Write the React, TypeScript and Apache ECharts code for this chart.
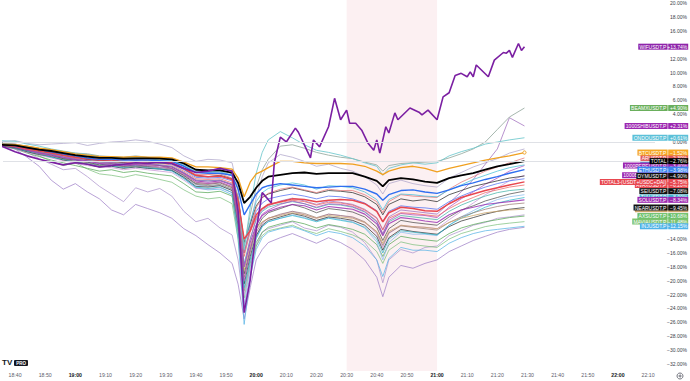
import React, { useEffect, useRef } from 'react';
import * as echarts from 'echarts';

// shared sample times (HH:MM)
const times = ["18:35","18:40","18:44","18:48","18:52","18:56","19:00","19:04","19:08","19:12","19:16","19:20","19:24","19:28","19:32","19:36","19:40","19:44","19:48","19:52","19:54","19:56","19:58","20:00","20:02","20:04","20:08","20:12","20:16","20:20","20:24","20:28","20:32","20:36","20:40","20:42","20:44","20:48","20:52","20:56","21:00","21:04","21:08","21:12","21:16","21:20","21:24","21:29"];

const totalVals = [-0.4,-0.5,-0.8,-1.1,-1.3,-1.6,-1.9,-2.1,-2.3,-2.3,-2.4,-2.35,-2.35,-2.4,-2.5,-3.1,-4.0,-4.1,-4.1,-4.4,-5.9,-8.8,-7.9,-6.6,-5.6,-5.0,-4.75,-4.5,-4.4,-4.6,-4.5,-4.5,-4.5,-5.0,-5.6,-6.4,-5.5,-5.2,-5.4,-5.7,-5.9,-5.2,-4.8,-4.5,-4.0,-3.5,-3.2,-2.76];
const btcVals = [-0.3,-0.4,-0.6,-0.9,-1.1,-1.4,-1.7,-1.9,-2.1,-2.1,-2.2,-2.1,-2.2,-2.2,-2.3,-2.9,-3.6,-3.6,-3.7,-3.9,-5.2,-7.9,-5.8,-4.6,-4.2,-3.7,-2.8,-2.8,-3.0,-3.1,-3.1,-3.1,-3.2,-3.5,-4.2,-4.7,-4.2,-3.7,-3.5,-3.8,-4.3,-3.8,-3.4,-3.0,-2.6,-2.3,-2.0,-1.52];
const ethVals = [-0.3,-0.5,-0.8,-1.1,-1.4,-1.7,-2.0,-2.3,-2.5,-2.5,-2.6,-2.6,-2.6,-2.7,-2.8,-3.5,-4.4,-4.5,-4.5,-4.8,-6.8,-10.5,-9.0,-7.5,-6.6,-6.3,-6.0,-6.2,-6.4,-6.6,-6.5,-6.4,-6.4,-6.8,-7.5,-8.4,-7.6,-7.0,-6.9,-7.2,-7.4,-6.9,-6.3,-5.9,-5.4,-5.0,-4.5,-3.98];
const total3Vals = [-0.4,-0.6,-1.0,-1.3,-1.6,-1.9,-2.2,-2.4,-2.6,-2.6,-2.8,-2.8,-2.8,-2.9,-3.0,-3.8,-4.8,-5.0,-4.9,-5.4,-8.5,-14.0,-12.8,-10.5,-9.6,-9.0,-8.6,-8.2,-8.3,-8.6,-8.4,-8.3,-8.4,-8.9,-10.0,-11.5,-10.2,-9.4,-9.6,-9.9,-10.0,-8.9,-8.0,-7.5,-7.0,-6.6,-6.2,-5.75];
const beamxVals = [-0.1,-0.3,-0.6,-0.9,-1.1,-1.4,-1.6,-1.7,-2.0,-2.1,-2.2,-2.0,-2.2,-2.4,-2.5,-3.2,-4.0,-4.1,-4.0,-4.6,-8.0,-15.0,-10.5,-6.5,-4.0,-2.5,-0.6,-0.4,-0.9,-1.5,-1.9,-2.2,-2.4,-2.9,-3.3,-4.2,-3.4,-3.1,-3.0,-2.9,-2.8,-2.3,-1.7,-1.0,0.0,1.8,3.6,4.9];
const ondoVals = [0.2,0.1,-0.3,-0.6,-1.0,-1.3,-1.6,-1.8,-2.1,-2.2,-2.3,-2.2,-2.3,-2.4,-2.6,-3.3,-4.2,-4.3,-4.2,-4.8,-8.5,-15.5,-9.5,-4.5,-1.5,0.3,1.5,0.6,-0.4,-1.2,-1.5,-1.9,-2.4,-3.0,-3.5,-4.8,-3.8,-3.3,-3.0,-3.2,-3.0,-2.0,-1.4,-0.9,-0.3,0.0,0.3,0.61];
const shibVals = [-0.3,-0.7,-1.1,-1.5,-1.8,-2.1,-2.4,-2.6,-2.9,-3.0,-3.2,-3.0,-3.2,-3.3,-3.5,-4.4,-5.5,-5.6,-5.5,-6.1,-10.5,-18.0,-14.0,-11.0,-9.8,-9.2,-8.5,-8.1,-8.5,-9.0,-8.5,-8.7,-9.0,-9.7,-10.9,-12.6,-10.8,-9.8,-10.0,-10.2,-10.4,-8.8,-7.2,-5.4,-3.2,-1.0,3.5,2.31];
const dymVals = [-0.2,-0.5,-0.8,-1.3,-1.5,-1.9,-2.1,-2.5,-2.6,-2.8,-2.9,-2.7,-2.9,-3.0,-3.1,-3.9,-4.9,-5.0,-4.8,-5.3,-8.0,-14.5,-11.8,-9.2,-8.0,-7.5,-7.0,-6.6,-7.0,-7.4,-7.0,-7.1,-7.3,-7.9,-9.0,-10.5,-9.0,-8.2,-8.5,-8.3,-8.6,-7.6,-7.0,-6.4,-6.0,-5.6,-5.2,-4.9];
const seiVals = [-0.4,-0.8,-1.2,-1.5,-1.9,-2.4,-2.6,-2.9,-3.3,-3.1,-3.5,-3.3,-3.5,-3.4,-3.8,-4.8,-6.0,-6.1,-5.9,-6.6,-11.0,-19.0,-15.5,-12.5,-11.0,-10.2,-9.6,-9.0,-9.5,-10.2,-9.6,-9.8,-10.1,-10.8,-12.3,-14.2,-12.5,-11.3,-11.6,-11.8,-12.0,-10.8,-9.8,-9.2,-8.5,-8.0,-7.5,-7.08];
const solVals = [-0.3,-0.7,-1.1,-1.6,-1.8,-2.2,-2.5,-2.7,-3.1,-3.0,-3.3,-3.2,-3.2,-3.4,-3.6,-4.5,-5.6,-5.8,-5.6,-6.2,-10.5,-18.0,-14.5,-12.0,-10.6,-10.0,-9.4,-9.0,-9.2,-9.8,-9.3,-9.5,-9.7,-10.4,-11.8,-13.5,-11.8,-10.9,-11.1,-11.4,-11.6,-10.5,-9.8,-9.4,-9.0,-8.8,-8.6,-8.34];
const nearVals = [-0.5,-0.9,-1.4,-1.8,-2.1,-2.6,-2.9,-3.2,-3.6,-3.5,-3.8,-3.6,-3.8,-3.9,-4.1,-5.1,-6.4,-6.5,-6.3,-7.0,-12.0,-20.5,-16.5,-13.5,-12.0,-11.3,-10.8,-10.3,-10.7,-11.3,-10.8,-11.0,-11.3,-12.0,-13.6,-15.6,-13.8,-12.6,-12.9,-13.1,-13.3,-12.2,-11.4,-10.9,-10.4,-10.0,-9.7,-9.45];
const axsVals = [-0.6,-1.0,-1.6,-2.1,-2.6,-3.0,-3.4,-3.8,-4.2,-4.0,-4.4,-4.2,-4.5,-4.7,-4.9,-6.0,-7.2,-7.3,-7.1,-7.8,-13.0,-21.5,-17.5,-14.5,-13.0,-12.3,-11.8,-11.4,-11.8,-12.4,-11.9,-12.2,-12.6,-13.3,-14.8,-16.5,-14.8,-13.6,-13.9,-14.1,-14.3,-13.2,-12.4,-11.9,-11.5,-11.2,-10.9,-10.68];
const maviaVals = [-0.1,-0.5,-1.3,-2.0,-2.8,-3.4,-3.0,-3.9,-4.6,-4.8,-5.1,-4.7,-5.0,-5.4,-5.8,-6.9,-7.8,-8.2,-8.0,-8.9,-14.0,-22.5,-18.0,-15.0,-13.5,-12.8,-12.4,-12.0,-12.7,-13.2,-12.5,-12.9,-13.4,-14.2,-15.8,-17.5,-15.6,-14.4,-14.8,-15.0,-15.2,-14.0,-13.2,-12.7,-12.2,-11.9,-11.7,-11.48];
const injVals = [-0.3,-0.6,-1.0,-1.5,-1.8,-2.3,-2.6,-2.9,-3.2,-3.2,-3.5,-3.4,-3.6,-3.8,-4.0,-5.2,-6.6,-6.9,-6.8,-7.6,-14.0,-26.3,-19.5,-15.5,-13.8,-13.0,-12.5,-12.2,-12.8,-13.5,-12.9,-13.2,-13.8,-15.0,-17.0,-19.4,-16.8,-15.2,-15.6,-15.6,-15.8,-14.6,-13.8,-13.2,-12.8,-12.6,-12.4,-12.15];
const arVals = [-0.2,-0.3,-0.7,-1.0,-1.4,-1.6,-2.0,-2.1,-2.4,-2.5,-2.6,-2.5,-2.7,-2.8,-2.9,-3.8,-4.7,-4.7,-4.6,-5.2,-9.5,-16.0,-12.5,-9.5,-8.0,-7.4,-6.8,-6.5,-6.9,-7.3,-6.8,-7.0,-7.0,-7.6,-8.6,-10.2,-8.6,-7.6,-7.8,-7.9,-8.0,-6.8,-5.8,-5.0,-4.2,-3.6,-3.0,-2.3];
const opVals = [-0.1,-0.4,-0.6,-1.0,-1.3,-1.5,-1.9,-2.0,-2.2,-2.3,-2.5,-2.4,-2.4,-2.6,-2.7,-3.4,-4.3,-4.4,-4.3,-4.9,-8.5,-15.0,-11.5,-8.6,-7.3,-6.7,-6.2,-5.9,-6.2,-6.8,-6.3,-6.4,-6.6,-7.2,-8.3,-9.8,-8.3,-7.5,-7.6,-7.8,-7.9,-6.9,-6.2,-5.4,-4.8,-4.2,-3.7,-3.3];
const pepeVals = [-0.4,-0.7,-1.2,-1.6,-2.0,-2.2,-2.6,-2.8,-3.1,-3.3,-3.4,-3.3,-3.4,-3.6,-3.8,-4.7,-5.8,-6.0,-5.8,-6.4,-11.5,-20.0,-15.5,-12.0,-10.4,-9.8,-9.0,-8.5,-8.9,-9.4,-8.9,-9.0,-9.3,-10.0,-11.4,-13.2,-11.3,-10.3,-10.5,-10.6,-10.9,-9.4,-8.2,-7.2,-6.1,-5.2,-4.2,-3.4];
const bonkVals = [-0.5,-1.0,-1.5,-1.9,-2.3,-2.7,-3.1,-3.4,-3.6,-3.7,-4.0,-3.8,-4.0,-4.2,-4.4,-5.5,-6.7,-6.8,-6.6,-7.3,-12.5,-22.0,-17.0,-13.5,-11.8,-11.0,-10.5,-10.0,-10.5,-11.0,-10.4,-10.6,-10.9,-11.6,-13.2,-15.2,-13.2,-12.0,-12.2,-12.3,-12.5,-11.2,-10.0,-8.8,-7.6,-6.6,-5.6,-4.8];
const avaxVals = [-0.3,-0.6,-0.9,-1.2,-1.6,-1.9,-2.3,-2.5,-2.7,-2.8,-3.0,-2.9,-3.0,-3.1,-3.3,-4.2,-5.3,-5.4,-5.3,-5.9,-10.0,-16.5,-13.0,-10.8,-9.6,-9.1,-8.7,-8.4,-8.6,-9.1,-8.7,-8.8,-9.1,-9.8,-11.0,-12.7,-11.0,-10.2,-10.3,-10.5,-10.7,-9.6,-8.7,-8.0,-7.3,-6.9,-6.5,-6.2];
const tiaVals = [-0.4,-0.9,-1.3,-1.7,-2.2,-2.5,-2.8,-3.2,-3.5,-3.4,-3.7,-3.5,-3.7,-3.9,-4.2,-5.3,-6.5,-6.7,-6.5,-7.3,-12.5,-21.0,-17.0,-13.8,-12.2,-11.5,-11.0,-10.6,-11.0,-11.5,-11.0,-11.3,-11.6,-12.3,-14.0,-16.0,-14.0,-12.8,-13.0,-13.2,-13.4,-12.0,-11.0,-10.2,-9.4,-8.8,-8.4,-8.0];
const ordiVals = [-0.2,-0.5,-0.9,-1.3,-1.7,-2.1,-2.4,-2.7,-3.0,-3.0,-3.3,-3.1,-3.3,-3.4,-3.6,-4.6,-5.8,-6.0,-5.8,-6.5,-11.0,-18.5,-15.0,-12.5,-11.5,-11.0,-10.6,-10.2,-10.5,-11.0,-10.6,-10.8,-11.0,-11.6,-12.9,-14.6,-12.9,-12.0,-12.2,-12.3,-12.5,-11.6,-11.0,-10.6,-10.2,-10.0,-9.8,-9.7];
const linkVals = [-0.3,-0.5,-0.9,-1.2,-1.6,-1.8,-2.2,-2.4,-2.7,-2.7,-2.9,-2.8,-2.9,-3.0,-3.2,-4.0,-5.1,-5.2,-5.1,-5.6,-9.5,-16.0,-12.5,-10.0,-8.8,-8.2,-7.8,-7.5,-7.8,-8.2,-7.8,-7.9,-8.2,-8.8,-9.9,-11.5,-10.0,-9.2,-9.4,-9.5,-9.7,-8.6,-7.8,-7.1,-6.5,-6.0,-5.6,-5.3];
const dogeVals = [-0.4,-0.8,-1.2,-1.7,-2.0,-2.4,-2.8,-3.0,-3.4,-3.3,-3.6,-3.5,-3.6,-3.7,-3.9,-4.9,-6.1,-6.3,-6.1,-6.8,-11.5,-19.5,-16.0,-13.0,-11.6,-11.0,-10.4,-10.0,-10.3,-10.9,-10.4,-10.6,-10.8,-11.5,-13.0,-14.9,-13.1,-12.1,-12.3,-12.5,-12.7,-11.6,-10.8,-10.2,-9.7,-9.3,-9.0,-8.8];
const aptVals = [-0.2,-0.6,-1.0,-1.4,-1.7,-2.0,-2.4,-2.6,-2.9,-2.9,-3.1,-3.0,-3.1,-3.3,-3.5,-4.4,-5.5,-5.6,-5.5,-6.1,-10.5,-17.5,-14.0,-11.2,-10.0,-9.4,-8.9,-8.6,-8.9,-9.5,-9.0,-9.1,-9.4,-10.1,-11.5,-13.3,-11.5,-10.6,-10.8,-11.0,-11.2,-10.0,-9.1,-8.4,-7.8,-7.3,-7.0,-6.8];
const arbVals = [-0.5,-0.9,-1.3,-1.8,-2.2,-2.5,-2.9,-3.1,-3.4,-3.5,-3.7,-3.6,-3.8,-3.9,-4.1,-5.0,-6.2,-6.4,-6.2,-6.9,-12.0,-23.5,-18.0,-14.0,-12.2,-11.5,-11.0,-10.5,-10.9,-11.4,-10.9,-11.2,-11.5,-12.4,-14.4,-17.0,-14.5,-13.0,-13.3,-13.3,-13.5,-12.0,-10.8,-9.9,-9.0,-8.3,-7.9,-7.6];
const lav1Vals = [0.0,-1.0,-2.2,-3.5,-5.5,-6.8,-6.0,-7.2,-8.2,-9.8,-10.5,-9.0,-9.6,-10.2,-11.0,-12.5,-13.5,-14.8,-16.0,-17.5,-20.5,-25.5,-21.0,-17.0,-15.5,-14.5,-13.8,-13.2,-13.9,-14.6,-13.8,-14.5,-15.5,-17.0,-19.5,-22.3,-19.5,-17.8,-18.2,-17.5,-17.0,-15.8,-15.0,-14.2,-13.6,-13.0,-12.6,-12.3];
const lav2Vals = [0.0,-0.6,-1.5,-2.4,-3.2,-4.0,-3.8,-5.0,-6.4,-7.5,-8.6,-6.6,-7.2,-6.7,-7.8,-10.0,-11.5,-11.0,-12.4,-13.4,-17.0,-24.0,-19.0,-15.0,-13.0,-12.5,-12.0,-11.5,-12.4,-12.8,-12.0,-12.3,-13.0,-14.5,-17.0,-20.3,-17.0,-15.5,-16.0,-15.2,-15.0,-13.5,-12.8,-12.0,-11.6,-11.0,-10.8,-10.5];
const upperVals = [0.0,0.2,-0.2,-0.4,-0.3,-0.2,-0.1,-0.5,-0.2,0.0,0.1,0.3,0.1,-0.3,-0.8,-2.0,-2.8,-2.5,-2.6,-3.0,-7.0,-16.0,-12.0,-8.0,-5.0,-3.0,-1.8,-2.2,-2.8,-3.5,-3.2,-3.8,-4.2,-5.0,-6.2,-7.5,-6.0,-5.5,-6.0,-6.3,-6.5,-5.2,-4.4,-3.6,-3.0,-2.4,-1.6,-1.0];

// WIF has its own finer sampling
const wifTimes = ["18:35","18:40","18:44","18:48","18:52","18:56","19:00","19:04","19:08","19:12","19:16","19:20","19:24","19:28","19:32","19:36","19:40","19:44","19:48","19:52","19:54","19:56","19:58","20:00","20:02","20:05","20:06","20:08","20:10","20:13","20:14","20:18","20:19","20:21","20:24","20:26","20:28","20:30","20:31","20:33","20:35","20:37","20:39","20:40","20:41","20:43","20:44","20:46","20:47","20:51","20:54","20:55","20:57","21:00","21:02","21:04","21:06","21:08","21:10","21:11","21:12","21:13","21:17","21:19","21:22","21:23","21:24","21:25","21:27","21:28","21:29"];
const wifVals = [-0.5,-1.4,-2.0,-2.5,-2.9,-3.3,-3.0,-3.2,-3.6,-3.4,-3.2,-3.0,-3.1,-2.9,-3.1,-3.8,-4.4,-4.2,-3.8,-4.2,-10.0,-24.6,-19.9,-12.7,-7.3,-8.8,-3.0,0.7,0.0,2.0,1.4,-2.3,0.3,-0.7,2.2,6.3,3.2,4.6,2.7,2.7,1.7,-0.1,-1.2,0.3,-1.6,2.2,1.3,4.2,3.2,4.9,4.3,3.9,4.6,3.2,6.5,7.1,9.6,9.9,9.4,10.1,9.4,11.1,9.4,11.8,12.9,12.8,13.2,12.2,14.2,13.2,13.74];

// axis ranges (minutes after 18:00 / percent)
const xRange = { min: 36, max: 252.3, labelFrom: 40, labelTo: 250, labelStep: 10 };
const yRange = { min: -33, max: 20.47, labelStep: 2 };
const hiddenYLabels = [14, 2, -2, -4, -6, -8, -10, -12];
const zoneStart = "20:30";
const zoneEnd = "21:00";

const toMin = (s: string) => {
  const [h, m] = s.split(':').map(Number);
  return (h - 18) * 60 + m;
};

const lineDefs = [
  { name: 'LAV1', values: lav1Vals, color: 'rgba(160,130,200,0.75)', width: 1 },
  { name: 'LAV2', values: lav2Vals, color: 'rgba(175,150,205,0.75)', width: 1 },
  { name: 'UPPER', values: upperVals, color: 'rgba(170,160,200,0.7)', width: 1 },
  { name: 'MAVIAUSDT.P', values: maviaVals, color: 'rgba(120,190,120,0.7)', width: 1 },
  { name: 'INJUSDT.P', values: injVals, color: 'rgba(90,180,230,0.75)', width: 1 },
  { name: 'AXSUSDT.P', values: axsVals, color: 'rgba(90,170,90,0.75)', width: 1 },
  { name: 'ARBUSDT.P', values: arbVals, color: 'rgba(140,190,240,0.75)', width: 1 },
  { name: '1000BONKUSDT.P', values: bonkVals, color: 'rgba(200,150,215,0.75)', width: 1 },
  { name: 'NEARUSDT.P', values: nearVals, color: 'rgba(40,40,40,0.7)', width: 1 },
  { name: 'TIAUSDT.P', values: tiaVals, color: 'rgba(40,180,200,0.7)', width: 1 },
  { name: 'DOGEUSDT.P', values: dogeVals, color: 'rgba(150,120,110,0.7)', width: 1 },
  { name: 'SEIUSDT.P', values: seiVals, color: 'rgba(70,70,70,0.7)', width: 1 },
  { name: 'ORDIUSDT.P', values: ordiVals, color: 'rgba(200,160,100,0.75)', width: 1 },
  { name: 'APTUSDT.P', values: aptVals, color: 'rgba(70,180,170,0.75)', width: 1 },
  { name: 'SOLUSDT.P', values: solVals, color: 'rgba(150,40,175,0.8)', width: 1.1 },
  { name: '1000SHIBUSDT.P', values: shibVals, color: 'rgba(160,110,190,0.75)', width: 1 },
  { name: '1000PEPEUSDT.P', values: pepeVals, color: 'rgba(170,70,190,0.7)', width: 1 },
  { name: 'AVAXUSDT.P', values: avaxVals, color: 'rgba(235,90,90,0.7)', width: 1 },
  { name: 'LINKUSDT.P', values: linkVals, color: 'rgba(80,110,240,0.75)', width: 1 },
  { name: 'DYMUSDT.P', values: dymVals, color: 'rgba(30,30,30,0.7)', width: 1 },
  { name: 'ARUSDT.P', values: arVals, color: 'rgba(225,110,110,0.7)', width: 1 },
  { name: 'OPUSDT.P', values: opVals, color: 'rgba(70,190,215,0.75)', width: 1 },
  { name: 'BEAMXUSDT.P', values: beamxVals, color: 'rgba(150,170,160,0.85)', width: 1 },
  { name: 'ONDOUSDT.P', values: ondoVals, color: 'rgba(110,200,205,0.85)', width: 1 },
  { name: 'TOTAL3-(USDT+USDC+DAI)', values: total3Vals, color: '#e8474f', width: 1.5 },
  { name: 'ETHUSDT.P', values: ethVals, color: '#2f6ff0', width: 1.4 },
  { name: 'BTCUSDT.P', values: btcVals, color: '#f0a020', width: 1.3 },
  { name: 'TOTAL', values: totalVals, color: '#000000', width: 1.8 },
];

const tagDefs = [
  // partially hidden tags first
  { name: 'ARUSDT.P', values: arVals, color: '#e05a5a' },
  { name: 'OPUSDT.P', values: opVals, color: '#3fb6d0' },
  { name: '1000PEPEUSDT.P', values: pepeVals, color: '#9c27b0' },
  { name: '1000BONKUSDT.P', values: bonkVals, color: '#9c27b0' },
  { name: 'AVAXUSDT.P', values: avaxVals, color: '#e8474f' },
  { name: 'TIAUSDT.P', values: tiaVals, color: '#3fb6d0' },
  { name: 'ORDIUSDT.P', values: ordiVals, color: '#c9a36a' },
  // visible tags
  { name: 'WIFUSDT.P', values: wifVals, color: '#8e24aa' },
  { name: 'BEAMXUSDT.P', values: beamxVals, color: '#6aaf5c' },
  { name: '1000SHIBUSDT.P', values: shibVals, color: '#9c27b0' },
  { name: 'ONDOUSDT.P', values: ondoVals, color: '#5bc0d8' },
  { name: 'BTCUSDT.P', values: btcVals, color: '#f5a623' },
  { name: 'TOTAL', values: totalVals, color: '#000000' },
  { name: 'ETHUSDT.P', values: ethVals, color: '#3a86f0' },
  { name: 'DYMUSDT.P', values: dymVals, color: '#111111' },
  { name: 'TOTAL3-(USDT+USDC+DAI)', values: total3Vals, color: '#e8474f' },
  { name: 'SEIUSDT.P', values: seiVals, color: '#111111' },
  { name: 'SOLUSDT.P', values: solVals, color: '#9c27b0' },
  { name: 'NEARUSDT.P', values: nearVals, color: '#111111' },
  { name: 'AXSUSDT.P', values: axsVals, color: '#6abf69' },
  { name: 'MAVIAUSDT.P', values: maviaVals, color: '#7cc36f' },
  { name: 'INJUSDT.P', values: injVals, color: '#4fb3e8' },
];

const fmtPct = (v: number) => (v < 0 ? '\u2212' : v > 0 ? '+' : '') + Math.abs(v).toFixed(2) + '%';
const FONT = "'Liberation Sans', Arial, sans-serif";

export default function App() {
  const ref = useRef<HTMLDivElement>(null);
  useEffect(() => {
    if (!ref.current) return;
    const chart = echarts.init(ref.current, null, { renderer: 'svg' });
    const series: any[] = lineDefs.map((d) => ({
      name: d.name,
      type: 'line',
      data: times.map((t, i) => [toMin(t), d.values[i]]),
      showSymbol: false,
      symbol: 'none',
      silent: true,
      lineStyle: { color: d.color, width: d.width },
      z: 2,
    }));
    series.push({
      name: 'WIFUSDT.P',
      type: 'line',
      data: wifTimes.map((t, i) => [toMin(t), wifVals[i]]),
      showSymbol: false,
      symbol: 'none',
      silent: true,
      lineStyle: { color: '#7b1fa2', width: 1.6 },
      z: 3,
    });
    // helper series for session zone & reference lines
    series.unshift({
      name: 'zone',
      type: 'line',
      data: [],
      silent: true,
      markArea: {
        silent: true,
        itemStyle: { color: '#fcf0f2' },
        data: [[{ xAxis: toMin(zoneStart), yAxis: yRange.max }, { xAxis: toMin(zoneEnd), yAxis: yRange.min }]],
      },
      markLine: {
        silent: true,
        symbol: 'none',
        label: { show: false },
        lineStyle: { color: '#dfe1e6', width: 1, type: 'solid' },
        data: [{ yAxis: 0 }, { yAxis: totalVals[totalVals.length - 1] }],
      },
      z: 1,
    });

    chart.setOption({
      animation: false,
      backgroundColor: '#ffffff',
      grid: { left: 0.9, right: 35, top: 0, bottom: 10.1, containLabel: false },
      xAxis: {
        type: 'value',
        min: xRange.min,
        max: xRange.max,
        interval: 1,
        axisLine: { show: false },
        axisTick: { show: false },
        splitLine: { show: false },
        axisLabel: {
          showMaxLabel: false,
          margin: 2,
          verticalAlign: 'top',
          formatter: (v: number) => {
            const r = Math.round(v);
            if (Math.abs(v - r) > 0.01 || r < xRange.labelFrom || r > xRange.labelTo || r % xRange.labelStep !== 0) return '';
            const h = 18 + Math.floor(r / 60);
            const m = r % 60;
            const s = `${h}:${m < 10 ? '0' + m : m}`;
            return m === 0 ? `{b|${s}}` : `{n|${s}}`;
          },
          rich: {
            b: { fontSize: 5.2, fontWeight: 'bold', color: '#131722', fontFamily: FONT },
            n: { fontSize: 5.2, color: '#5d606b', fontFamily: FONT },
          },
        },
      },
      yAxis: {
        type: 'value',
        position: 'right',
        min: yRange.min,
        max: yRange.max,
        interval: 1,
        axisLine: { show: false },
        axisTick: { show: false },
        splitLine: { show: false },
        axisLabel: {
          showMaxLabel: false,
          margin: 32,
          align: 'right',
          fontSize: 5,
          color: '#3a3d46',
          fontFamily: FONT,
          formatter: (v: number) => {
            const r = Math.round(v);
            if (Math.abs(v - r) > 0.01 || r % yRange.labelStep !== 0 || hiddenYLabels.includes(r)) return '';
            return (r < 0 ? '\u2212' : '') + Math.abs(r).toFixed(2) + '%';
          },
        },
      },
      series,
    });

    const graphics: any[] = [];
    tagDefs.forEach((t, i) => {
      const v = t.values[t.values.length - 1];
      const y = chart.convertToPixel({ yAxisIndex: 0 }, v) as number;
      graphics.push({
        type: 'text',
        x: 667.6,
        y,
        z: 100 + i * 3,
        style: {
          text: t.name,
          fill: '#ffffff',
          font: `5px ${FONT}`,
          align: 'right',
          verticalAlign: 'middle',
          backgroundColor: t.color,
          padding: [0.6, 1.2, 0.4, 1.2],
        },
      });
      graphics.push({
        type: 'rect',
        z: 101 + i * 3,
        shape: { x: 668.2, y: y - 3, width: 20, height: 6 },
        style: { fill: t.color },
      });
      graphics.push({
        type: 'text',
        x: 687.2,
        y,
        z: 102 + i * 3,
        style: { text: fmtPct(v), fill: '#ffffff', font: `5px ${FONT}`, align: 'right', verticalAlign: 'middle' },
      });
    });
    // last-price dot on BTC line
    const btcEnd = chart.convertToPixel({ gridIndex: 0 }, [toMin(times[times.length - 1]), btcVals[btcVals.length - 1]]) as number[];
    graphics.push({ type: 'circle', z: 50, shape: { cx: btcEnd[0], cy: btcEnd[1], r: 1.6 }, style: { fill: '#ffffff', stroke: '#f0a020', lineWidth: 1 } });
    // TV PRO logo
    graphics.push({ type: 'text', x: 2, y: 358.5, z: 100, style: { text: 'TV', font: `bold 8px ${FONT}`, fill: '#131722' } });
    graphics.push({ type: 'rect', x: 14, y: 360, z: 100, shape: { width: 14, height: 6, r: 1 }, style: { fill: '#131722' } });
    graphics.push({ type: 'text', x: 21, y: 363, z: 101, style: { text: 'PRO', font: `bold 4.5px ${FONT}`, fill: '#ffffff', align: 'center', verticalAlign: 'middle' } });
    // settings icon
    graphics.push({ type: 'circle', z: 100, shape: { cx: 680, cy: 376, r: 3 }, style: { fill: 'none', stroke: '#50535e', lineWidth: 0.8 } });
    graphics.push({ type: 'circle', z: 100, shape: { cx: 680, cy: 376, r: 1 }, style: { fill: 'none', stroke: '#50535e', lineWidth: 0.8 } });
    chart.setOption({ graphic: graphics });

    return () => chart.dispose();
  }, []);
  return <div ref={ref} style={{ position: 'fixed', left: 0, top: 0, width: 690, height: 381, background: '#fff' }} />;
}
